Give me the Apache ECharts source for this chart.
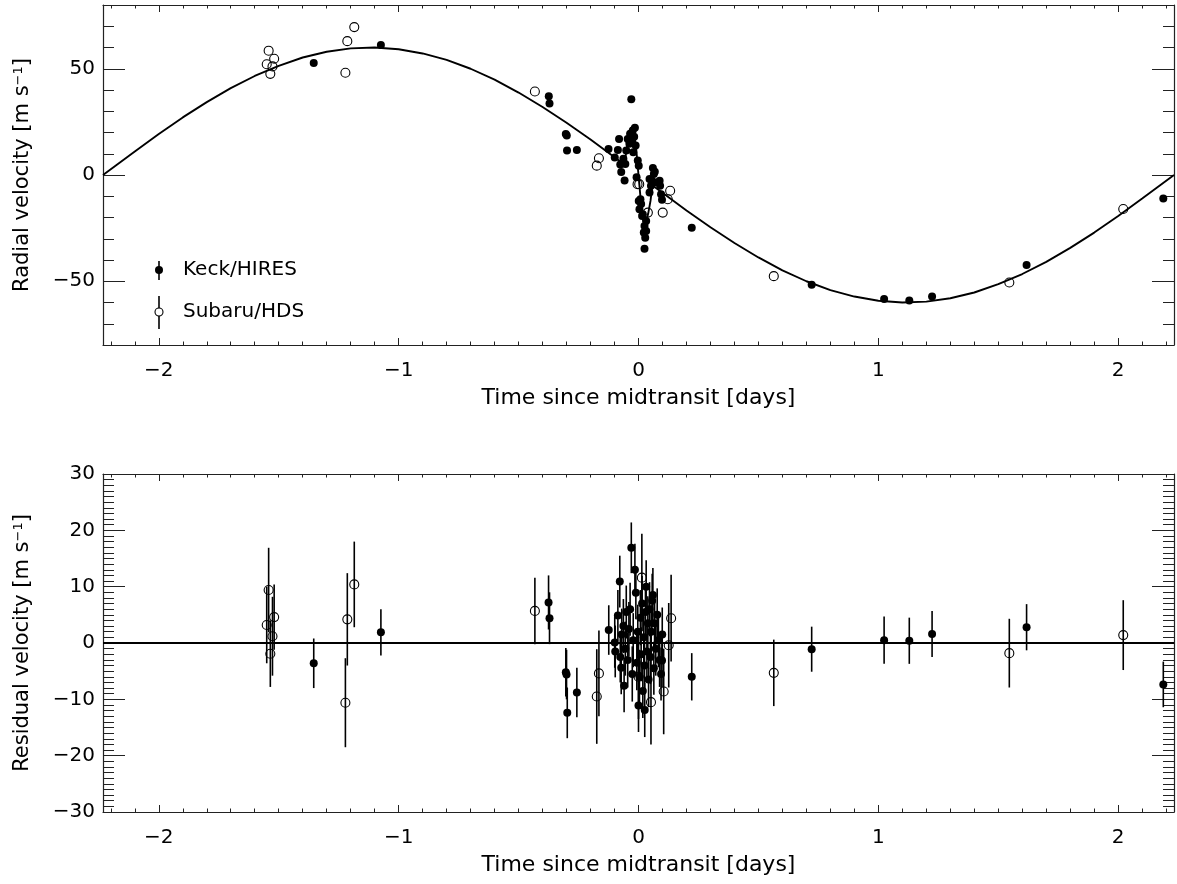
<!DOCTYPE html>
<html>
<head>
<meta charset="utf-8">
<script src="https://cdn.jsdelivr.net/npm/echarts@6/dist/echarts.min.js"></script>
<style>
  html, body { margin: 0; padding: 0; background: #fff; }
  #chart { width: 1177px; height: 884px; }
</style>
</head>
<body>
<div id="chart"></div>
<script>
// half an orbital period either side of midtransit
const X_MIN = -2.2326, X_MAX = 2.2326;

// model curve (orbit + transit anomaly)
const modelT = [-2.2326, -2.1, -2.0, -1.9, -1.8, -1.7, -1.6, -1.5, -1.4, -1.3, -1.2, -1.1, -1.0,
    -0.9, -0.8, -0.7, -0.6, -0.5, -0.4, -0.3, -0.2, -0.1, -0.07, -0.058, -0.05, -0.04, -0.03,
    -0.02, -0.01, 0, 0.01, 0.02, 0.03, 0.04, 0.05, 0.058, 0.07, 0.1, 0.2, 0.3, 0.4, 0.5, 0.6,
    0.7, 0.8, 0.9, 1.0, 1.1, 1.2, 1.3, 1.4, 1.5, 1.6, 1.7, 1.8, 1.9, 2.0, 2.1, 2.2326];
const modelV = [0, 11.1, 19.3, 27.1, 34.3, 40.9, 46.6, 51.4, 55.3, 58.0, 59.6, 60.0, 59.2,
    57.2, 54.2, 50.0, 44.9, 38.8, 32.0, 24.6, 16.7, 8.4, 5.9, 4.9, 12.2, 18.4, 22.5,
    21.7, 12.8, 0, -12.8, -21.7, -22.5, -18.4, -12.2, -4.9, -5.9, -8.4, -16.7, -24.6, -32.0, -38.8, -44.9,
    -50.0, -54.2, -57.2, -59.2, -60.0, -59.6, -58.0, -55.3, -51.4, -46.6, -40.9, -34.3, -27.1, -19.3, -11.1, 0];

// Keck/HIRES radial velocities
const keckT = [-1.354, -1.074, -0.374, -0.371, -0.303, -0.299, -0.298, -0.257,
    -0.125, -0.099, -0.086, -0.081, -0.076, -0.072, -0.063, -0.058, -0.055, -0.051, -0.045, -0.038,
    -0.035, -0.030, -0.027, -0.024, -0.022, -0.018, -0.015, -0.012, -0.008, -0.003, 0.001, 0.001,
    0.004, 0.008, 0.011, 0.015, 0.018, 0.022, 0.025, 0.025, 0.028, 0.032, 0.032, 0.046, 0.046,
    0.052, 0.056, 0.060, 0.064, 0.068, 0.068, 0.088, 0.090, 0.094, 0.098,
    0.222, 0.722, 1.024, 1.129, 1.224, 1.618, 2.188];
const keckV = [52.7, 61.2, 37.1, 33.7, 19.3, 18.6, 11.5, 11.8,
    12.2, 8.2, 11.8, 17.0, 4.9, 1.4, 7.6, -2.6, 5.2, 11.5, 17.0, 14.7,
    19.4, 35.6, 16.5, 21.0, 10.7, 18.0, 22.2, 13.9, -1.1, 6.8, 4.4, -12.2,
    -16.1, -11.4, -13.7, -19.3, -18.5, -27.0, -24.0, -34.7, -29.5, -26.4, -21.6, -8.2, -1.9,
    -5.1, -2.7, 3.3, 0.5, -3.5, 1.5, -2.7, -5.1, -9.0, -11.6,
    -24.8, -51.7, -58.3, -59.1, -57.2, -42.3, -11.1];

// Subaru/HDS radial velocities
const subaruT = [-1.550, -1.542, -1.535, -1.526, -1.519, -1.222, -1.214, -1.185, -0.432, -0.174,
    -0.165, -0.004, 0.003, 0.039, 0.101, 0.122, 0.132, 0.564, 1.546, 2.021];
const subaruV = [52.1, 58.5, 47.6, 51.1, 54.7, 48.1, 63.0, 69.6, 39.3, 4.4,
    7.9, -4.3, -4.3, -17.7, -17.7, -11.4, -7.4, -47.6, -50.6, -16.0];

// Keck/HIRES residuals and errors
const keckResT = [-1.354, -1.074, -0.375, -0.371, -0.303, -0.300, -0.297, -0.257,
    -0.124, -0.099, -0.097, -0.086, -0.078, -0.076, -0.072, -0.070, -0.063, -0.060, -0.055, -0.051,
    -0.045, -0.040, -0.035, -0.030, -0.026, -0.022, -0.015, -0.011, -0.007, -0.003, 0.000, 0.004,
    0.008, 0.011, 0.015, 0.018, 0.022, 0.025, 0.026, 0.029, 0.032, 0.035, 0.039, 0.042, 0.046,
    0.050, 0.053, 0.057, 0.060, 0.064, 0.067, 0.072, 0.078, 0.083, 0.088, 0.094, 0.098, 0.099,
    0.222, 0.722, 1.024, 1.129, 1.224, 1.618, 2.188];
const keckRes = [-3.6, 1.9, 7.2, 4.4, -5.2, -5.6, -12.4, -8.8,
    2.3, 0.1, -1.5, 4.9, 10.9, -2.5, -4.4, 1.5, 3.0, -7.6, -1.0, 5.5,
    -3.0, 2.5, 6.0, 16.9, -5.5, 0.5, 13.0, 8.9, -3.5, 2.0, -11.1, -6.0,
    4.5, -2.0, 7.0, -8.5, 1.0, -4.0, -11.9, 5.5, 10.0, -1.5, 3.5, -6.5, 6.0,
    -2.5, 2.0, 7.5, 8.5, -4.5, 3.5, -1.0, 5.0, 0.5, -3.0, -5.5, -3.1, 1.5,
    -6.0, -1.1, 0.5, 0.4, 1.6, 2.8, -7.35];
const keckErr = [4.4, 4.1, 4.8, 4.6, 4.3, 4.4, 4.5, 4.4,
    4.4, 4.5, 4.6, 4.5, 4.6, 4.5, 4.7, 4.6, 4.8, 4.7, 4.8, 4.7,
    4.9, 4.8, 4.7, 4.5, 4.9, 4.8, 4.6, 4.7, 4.9, 4.8, 4.7, 4.8,
    4.9, 4.8, 4.9, 4.8, 4.8, 4.9, 4.8, 4.7, 4.7, 4.8, 4.8, 4.9, 4.8,
    4.8, 4.7, 4.8, 4.8, 4.7, 4.8, 4.8, 4.7, 4.8, 4.8, 4.7, 4.7, 4.8,
    4.2, 4.0, 4.2, 4.1, 4.1, 4.1, 4.05];

// Subaru/HDS residuals and errors
const subaruResT = [-1.550, -1.542, -1.535, -1.526, -1.519, -1.222, -1.214, -1.185, -0.432, -0.174,
    -0.165, 0.000, 0.014, 0.052, 0.105, 0.126, 0.136, 0.564, 1.546, 2.021];
const subaruRes = [3.2, 9.4, -1.9, 1.2, 4.6, -10.6, 4.2, 10.4, 5.7, -9.5,
    -5.4, -6.0, 11.6, -10.5, -8.6, -0.4, 4.4, -5.3, -1.8, 1.4];
const subaruErr = [6.8, 7.5, 5.9, 7.0, 5.8, 7.9, 8.2, 7.6, 5.9, 8.4,
    7.6, 7.5, 7.8, 7.5, 7.6, 7.5, 7.7, 5.9, 6.1, 6.2];

const FONT = 'DejaVu Sans';
const INK = '#000';
const FRAME = '#222';

const chart = echarts.init(document.getElementById('chart'), null, { renderer: 'canvas' });

function fmtTick(step) {
    return function (v) {
        if (Math.abs(v / step - Math.round(v / step)) > 1e-6) return '';
        const n = Math.round(v);
        return n < 0 ? '\u2212' + Math.abs(n) : String(n);
    };
}

function xAxisDef(gridIndex, position, withLabels) {
    return {
        type: 'value', gridIndex: gridIndex, position: position,
        min: X_MIN, max: X_MAX, minInterval: 1, maxInterval: 1,
        axisLine: { show: true, onZero: false, lineStyle: { color: FRAME, width: 1.2 } },
        axisTick: { show: true, inside: true, length: 7, lineStyle: { color: FRAME, width: 1 } },
        minorTick: { show: true, splitNumber: 10, length: 3.5, lineStyle: { color: FRAME, width: 1 } },
        splitLine: { show: false },
        minorSplitLine: { show: false },
        axisLabel: {
            show: withLabels, margin: 16, color: INK, fontFamily: FONT, fontSize: 20,
            formatter: fmtTick(1)
        },
        name: withLabels ? 'Time since midtransit [days]' : '',
        nameLocation: 'middle', nameGap: 42,
        nameTextStyle: { color: INK, fontFamily: FONT, fontSize: 22 }
    };
}

function yAxisDef(gridIndex, position, withLabels, lo, hi, step, minor, name) {
    const ax = {
        type: 'value', gridIndex: gridIndex, position: position,
        min: lo, max: hi,
        axisLine: { show: true, onZero: false, lineStyle: { color: FRAME, width: 1.2 } },
        axisTick: { show: true, inside: true, length: 22, lineStyle: { color: FRAME, width: 1 } },
        minorTick: { show: true, splitNumber: minor, length: 11, lineStyle: { color: FRAME, width: 1 } },
        splitLine: { show: false },
        minorSplitLine: { show: false },
        axisLabel: {
            show: withLabels, margin: 8, color: INK, fontFamily: FONT, fontSize: 20,
            formatter: fmtTick(step)
        },
        name: withLabels ? name : '',
        nameLocation: 'middle', nameGap: 70,
        nameTextStyle: {
            color: INK, fontFamily: FONT, fontSize: 21,
            rich: { sup: { fontSize: 13, verticalAlign: 'top', lineHeight: 12, color: INK, fontFamily: FONT } }
        }
    };
    if (lo % step === 0) {
        ax.interval = step;
    } else {
        ax.minInterval = step;
        ax.maxInterval = step;
    }
    return ax;
}

function errorBars(ts, rs, es, xi, yi) {
    return {
        type: 'custom', xAxisIndex: xi, yAxisIndex: yi, z: 2, silent: true,
        data: ts.map((t, i) => [t, rs[i] - es[i], rs[i] + es[i]]),
        encode: { x: 0, y: [1, 2] },
        renderItem: function (params, api) {
            const lo = api.coord([api.value(0), api.value(1)]);
            const hi = api.coord([api.value(0), api.value(2)]);
            return {
                type: 'line',
                shape: { x1: lo[0], y1: lo[1], x2: hi[0], y2: hi[1] },
                style: { stroke: INK, lineWidth: 1.6 }
            };
        }
    };
}

const pair = (a, b) => a.map((v, i) => [v, b[i]]);

const filledDot = { symbol: 'circle', symbolSize: 8, itemStyle: { color: INK, opacity: 1 } };
const openDot = { symbol: 'circle', symbolSize: 9, itemStyle: { color: 'rgba(0,0,0,0)', borderColor: INK, borderWidth: 1.1, opacity: 1 } };

const option = {
    animation: false,
    backgroundColor: '#fff',
    grid: [
        { left: 103, top: 5, width: 1071, height: 340, outerBoundsMode: 'none', containLabel: false },
        { left: 103, top: 474, width: 1071, height: 338, outerBoundsMode: 'none', containLabel: false }
    ],
    xAxis: [
        xAxisDef(0, 'bottom', true),
        xAxisDef(0, 'top', false),
        xAxisDef(1, 'bottom', true),
        xAxisDef(1, 'top', false)
    ],
    yAxis: [
        yAxisDef(0, 'left', true, -80, 80, 50, 5, 'Radial velocity [m s{sup|\u22121}]'),
        yAxisDef(0, 'right', false, -80, 80, 50, 5, ''),
        yAxisDef(1, 'left', true, -30, 30, 10, 10, 'Residual velocity [m s{sup|\u22121}]'),
        yAxisDef(1, 'right', false, -30, 30, 10, 10, '')
    ],
    graphic: [
        { type: 'line', shape: { x1: 159, y1: 261, x2: 159, y2: 280 }, style: { stroke: INK, lineWidth: 1.6 } },
        { type: 'circle', shape: { cx: 159, cy: 270, r: 4 }, style: { fill: INK } },
        { type: 'text', x: 183, y: 270, style: { text: 'Keck/HIRES', font: '20px "DejaVu Sans"', fill: INK, verticalAlign: 'middle' } },
        { type: 'line', shape: { x1: 159, y1: 296, x2: 159, y2: 329 }, style: { stroke: INK, lineWidth: 1.6 } },
        { type: 'circle', shape: { cx: 159, cy: 312, r: 4 }, style: { fill: '#fff', stroke: INK, lineWidth: 1.1 } },
        { type: 'text', x: 183, y: 312, style: { text: 'Subaru/HDS', font: '20px "DejaVu Sans"', fill: INK, verticalAlign: 'middle' } }
    ],
    series: [
        {
            name: 'model', type: 'line', xAxisIndex: 0, yAxisIndex: 0, z: 1,
            data: pair(modelT, modelV), showSymbol: false, symbol: 'none',
            lineStyle: { color: INK, width: 1.9 }
        },
        Object.assign({ name: 'Keck/HIRES', type: 'scatter', xAxisIndex: 0, yAxisIndex: 0, z: 3, data: pair(keckT, keckV) }, filledDot),
        Object.assign({ name: 'Subaru/HDS', type: 'scatter', xAxisIndex: 0, yAxisIndex: 0, z: 4, data: pair(subaruT, subaruV) }, openDot),
        errorBars(keckResT, keckRes, keckErr, 2, 2),
        errorBars(subaruResT, subaruRes, subaruErr, 2, 2),
        Object.assign({
            name: 'Keck residuals', type: 'scatter', xAxisIndex: 2, yAxisIndex: 2, z: 3,
            data: pair(keckResT, keckRes),
            markLine: {
                silent: true, symbol: 'none', label: { show: false },
                lineStyle: { color: INK, width: 1.8, type: 'solid' },
                data: [{ yAxis: 0 }]
            }
        }, filledDot),
        Object.assign({ name: 'Subaru residuals', type: 'scatter', xAxisIndex: 2, yAxisIndex: 2, z: 4, data: pair(subaruResT, subaruRes) }, openDot)
    ]
};

chart.setOption(option);
</script>
</body>
</html>
